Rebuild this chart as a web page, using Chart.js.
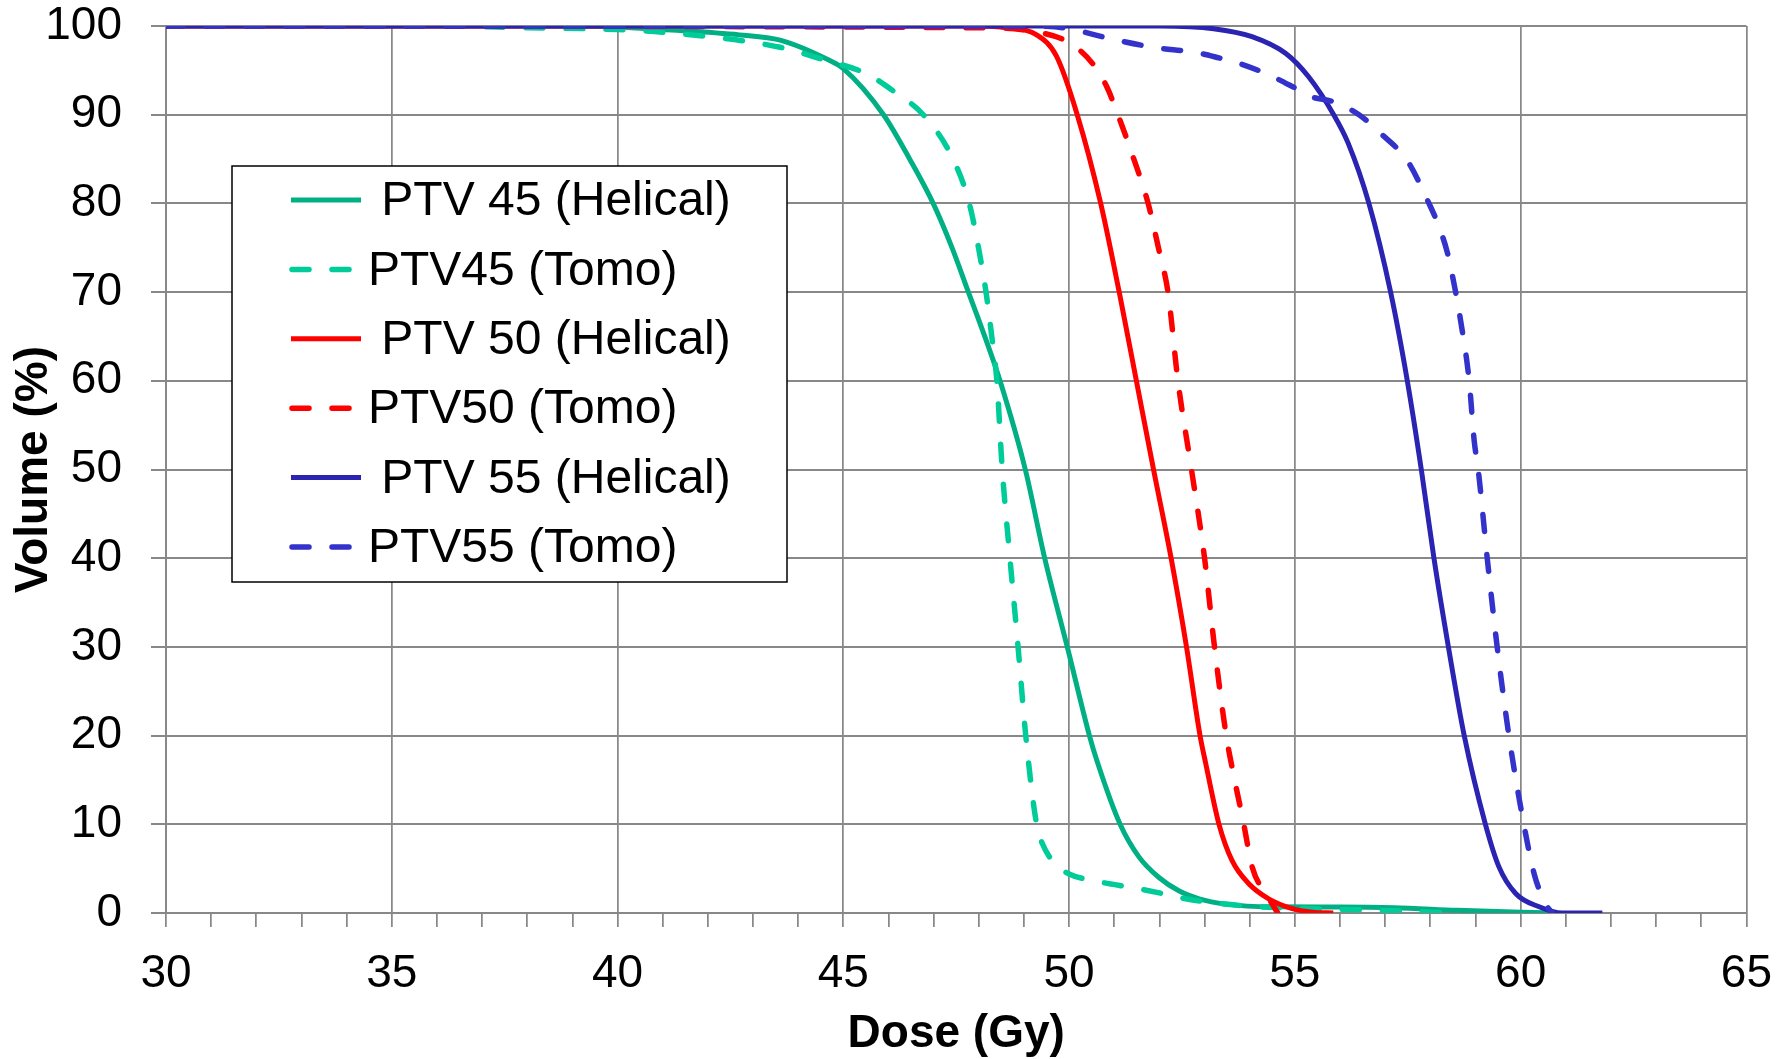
<!DOCTYPE html>
<html>
<head>
<meta charset="utf-8">
<script src="https://cdn.jsdelivr.net/npm/chart.js@4.4.1/dist/chart.umd.min.js"></script>
<style>
  html, body { margin: 0; padding: 0; background: #fff; }
  canvas { display: block; }
</style>
</head>
<body>
<canvas id="dvh" width="1792" height="1059"></canvas>
<script>
// series names (Excel legend keeps a leading space on the helical ones)
const seriesNames = [' PTV 45 (Helical)', 'PTV45 (Tomo)', ' PTV 50 (Helical)', 'PTV50 (Tomo)', ' PTV 55 (Helical)', 'PTV55 (Tomo)']

// dose (Gy) / volume (%)
const doseH45 = [30, 38, 40, 41, 42.7, 43.6, 44.7, 45, 45.89, 46.48, 46.99, 47.4, 47.77, 48.14, 48.47, 49.03, 49.46, 49.96, 50.45, 50.62, 51.13, 51.55, 51.99, 52.43, 52.88, 53.47, 54.5, 56.0, 57.2, 58.6, 60, 60.8]
const volH45  = [100, 100, 99.9, 99.6, 99.0, 98.4, 96.1, 95.2, 90, 84.9, 80, 75.1, 70, 64.9, 60, 50, 40, 30, 20, 17.1, 10, 6.3, 4.0, 2.5, 1.6, 1.0, 0.7, 0.68, 0.6, 0.3, 0.08, 0]

const doseT45 = [30, 36, 38, 40, 41, 43.6, 44.56, 45.52, 46.18, 46.77, 47.44, 47.79, 47.99, 48.16, 48.29, 48.4, 48.52, 48.69, 48.87, 49.04, 49.28, 49.41, 49.7, 50.0, 50.59, 51.47, 52.06, 52.58, 53.76, 55.24, 56.5, 57.5, 58.4]
const volT45  = [100, 100, 99.8, 99.6, 99.3, 97.6, 96.2, 94.6, 92.4, 90, 84.9, 80, 75.1, 70, 64.9, 60, 50, 40, 30, 20, 10, 7.8, 5.5, 4.4, 3.6, 2.8, 2.2, 1.6, 0.86, 0.5, 0.35, 0.2, 0]

const doseH50 = [30, 48.0, 48.61, 49.28, 49.72, 50.18, 50.7, 51.11, 51.49, 51.87, 52.26, 52.6, 52.9, 53.02, 53.32, 53.61, 53.98, 54.42, 54.94, 55.4, 55.85]
const volH50  = [100, 100, 99.8, 99.0, 96.6, 90, 80, 70, 60, 50, 40, 30, 20, 17, 10, 5.9, 3.3, 1.6, 0.5, 0.1, 0]

const doseT50 = [30, 48.17, 49.2, 50.01, 50.53, 50.83, 51.08, 51.4, 51.75, 52.0, 52.19, 52.41, 52.71, 53.0, 53.22, 53.48, 53.65, 53.85, 54.06, 54.35, 54.5, 54.62]
const volT50  = [100, 99.8, 99.4, 98.1, 95.7, 93.2, 90, 85.5, 80, 74.5, 70, 60, 50, 40, 30, 20, 15.4, 10.5, 5.1, 2.2, 1.0, 0]

const doseH55 = [30, 52.0, 53.2, 54.05, 54.8, 55.3, 55.86, 56.18, 56.64, 57.12, 57.49, 57.8, 58.08, 58.4, 58.75, 59.22, 59.52, 59.89, 60.41, 60.92, 61.81]
const volH55  = [100, 100, 99.7, 98.8, 96.9, 94.3, 90, 86.8, 80, 70, 60, 50, 40, 30, 20, 10, 5.2, 2.2, 0.7, 0, 0]

const doseT55 = [30, 49.0, 49.87, 50.97, 51.86, 52.82, 53.32, 53.76, 54.42, 55.01, 55.38, 55.83, 56.42, 56.94, 57.3, 57.53, 57.97, 58.19, 58.38, 58.56, 58.67, 58.86, 58.97, 59.06, 59.26, 59.48, 59.74, 60.07, 60.3, 60.48, 60.59, 60.7]
const volT55  = [100, 100, 99.8, 98.5, 97.6, 97.0, 96.4, 95.8, 94.5, 93.0, 92.0, 91.5, 90, 87.7, 86.0, 84.5, 80, 77.4, 74.4, 70, 66.8, 60, 53.3, 50, 40, 30, 20, 10, 4.4, 1.8, 0.7, 0]

const xTicks = [30, 35, 40, 45, 50, 55, 60, 65]
const yTicks = [0, 10, 20, 30, 40, 50, 60, 70, 80, 90, 100]

const doses = [doseH45, doseT45, doseH50, doseT50, doseH55, doseT55]
const vols = [volH45, volT45, volH50, volT50, volH55, volT55]
const colors = ['#00b084', '#00cc99', '#ff0000', '#ff0000', '#2b24b3', '#3333cc']
const DASH = [17, 23]
const GRID = '#888888'
const FONT = "'Liberation Sans', Arial, sans-serif"

function pts(d, v) {
    let out = []
    for (let i = 0; i < d.length; i++) out.push({ x: d[i], y: v[i] })
    return out
}

var datasets = []
for (let i = 0; i < seriesNames.length; i++) {
    let dashed = i % 2 === 1
    datasets.push({
        label: seriesNames[i],
        data: pts(doses[i], vols[i]),
        borderColor: colors[i],
        backgroundColor: colors[i],
        borderWidth: dashed ? 5.5 : 5,
        borderDash: dashed ? DASH : [],
        borderCapStyle: dashed ? 'round' : 'butt',
        pointRadius: 0,
        cubicInterpolationMode: 'monotone',
        fill: false,
        order: seriesNames.length - i   // later series on top, like Excel
    })
}

// legend box drawn inside the plot, Excel style
const boxLegend = {
    id: 'boxLegend',
    afterDatasetsDraw(chart) {
        const c = chart.ctx
        const x0 = 232, y0 = 166, w = 555, h = 416
        c.save()
        c.fillStyle = '#fff'
        c.fillRect(x0, y0, w, h)
        c.lineWidth = 1.5
        c.strokeStyle = '#000'
        c.strokeRect(x0, y0, w, h)
        c.font = '48px ' + FONT
        c.textBaseline = 'middle'
        c.fillStyle = '#000'
        chart.data.datasets.forEach(function (ds, i) {
            let y = 200 + i * 69.4
            c.beginPath()
            c.strokeStyle = ds.borderColor
            c.lineWidth = ds.borderWidth
            c.setLineDash(ds.borderDash)
            c.lineCap = ds.borderCapStyle
            let xe = ds.borderDash.length ? 351 : 361
            c.moveTo(ds.borderDash.length ? 292 : 291, y)
            c.lineTo(xe, y)
            c.stroke()
            c.setLineDash([])
            c.fillText(ds.label, 368, y + 2)
        })
        c.restore()
    }
}

const ctx = document.getElementById('dvh')
var dvhChart = new Chart(ctx, {
    type: 'line',
    data: { datasets: datasets },
    plugins: [boxLegend],
    options: {
        responsive: false,
        animation: false,
        layout: { padding: { top: 26, right: 45, left: 0, bottom: 0 } },
        plugins: { legend: { display: false }, tooltip: { enabled: false } },
        scales: {
            x: {
                type: 'linear',
                min: xTicks[0],
                max: xTicks[xTicks.length - 1],
                afterFit: function (s) { s.height = 146 },
                ticks: {
                    stepSize: 1,
                    autoSkip: false,
                    maxRotation: 0,
                    padding: 20,
                    color: '#000',
                    font: { family: FONT, size: 46 },
                    callback: function (v) { return xTicks.includes(v) ? String(v) : '' }
                },
                grid: {
                    color: function (c) { return c.tick && xTicks.includes(c.tick.value) ? GRID : 'rgba(0,0,0,0)' },
                    tickColor: GRID,
                    lineWidth: 1.75,
                    tickLength: 14
                },
                border: { color: GRID, width: 2 },
                title: {
                    display: true,
                    text: 'Dose (Gy)',
                    color: '#000',
                    font: { family: FONT, size: 46, weight: 'bold', lineHeight: 1 },
                    padding: { top: 0, bottom: 2 }
                }
            },
            y: {
                min: yTicks[0],
                max: yTicks[yTicks.length - 1],
                // fixed axis band; top spacing comes from layout padding only
                afterFit: function (s) { s.width = 166; s.paddingTop = 0 },
                ticks: {
                    stepSize: 10,
                    padding: 29,
                    color: '#000',
                    font: { family: FONT, size: 46, lineHeight: 1 }
                },
                grid: { color: GRID, lineWidth: 2, tickLength: 15 },
                border: { color: GRID, width: 2 },
                title: {
                    display: true,
                    text: 'Volume (%)',
                    color: '#000',
                    font: { family: FONT, size: 46, weight: 'bold', lineHeight: 1 },
                    padding: { top: 11, bottom: 0 }
                }
            }
        }
    }
})
</script>
</body>
</html>
